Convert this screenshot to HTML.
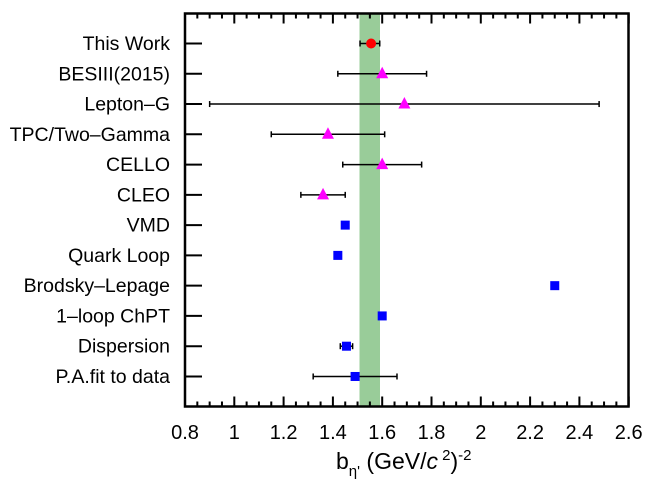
<!DOCTYPE html>
<html><head><style>body{margin:0;background:#fff}svg{display:block}</style></head><body>
<svg width="651" height="487" xmlns="http://www.w3.org/2000/svg" font-family="Liberation Sans, sans-serif">
<rect x="359.5" y="13.5" width="20.5" height="393" fill="#99cc99"/>
<text x="336" y="469" font-size="23">b<tspan font-size="15" dy="7">η'</tspan><tspan dy="-7"> (GeV/</tspan><tspan font-style="italic">c</tspan><tspan font-size="15" dy="-9"> 2</tspan><tspan dy="9">)</tspan><tspan font-size="15" dy="-9">-2</tspan></text>
<script>
const s=document.querySelector('svg');const NS='http://www.w3.org/2000/svg';
const X=v=>185+(v-0.8)*246.5;
function el(t,a,txt){const e=document.createElementNS(NS,t);for(const k in a)e.setAttribute(k,a[k]);if(txt!==undefined)e.textContent=txt;s.appendChild(e);return e;}
for(let i=0;i<=36;i++){const v=0.8+i*0.05,x=X(v),L=(i%4==0)?10:5;
el('line',{x1:x,x2:x,y1:406.5,y2:406.5-L,stroke:'#000','stroke-width':2});
el('line',{x1:x,x2:x,y1:13.5,y2:13.5+L,stroke:'#000','stroke-width':2});
if(i%4==0){el('text',{x:x,y:439,'font-size':20,'text-anchor':'middle'},(Math.round(v*10)/10).toString());}}
const rows=[["This Work",1.555,1.51,1.59,'c'],["BESIII(2015)",1.60,1.42,1.78,'t'],["Lepton\u2013G",1.69,0.90,2.48,'t'],["TPC/Two\u2013Gamma",1.38,1.15,1.61,'t'],["CELLO",1.60,1.44,1.76,'t'],["CLEO",1.36,1.27,1.45,'t'],["VMD",1.45,null,null,'s'],["Quark Loop",1.42,null,null,'s'],["Brodsky\u2013Lepage",2.30,null,null,'s'],["1\u2013loop ChPT",1.60,null,null,'s'],["Dispersion",1.455,1.43,1.48,'s'],["P.A.fit to data",1.49,1.32,1.66,'s']];
rows.forEach((r,i)=>{const y=43.5+i*30.27;
el('line',{x1:185,x2:202,y1:y,y2:y,stroke:'#000','stroke-width':2});
el('text',{x:170,y:y+6.5,'font-size':19.5,'text-anchor':'end'},r[0]);
if(r[2]!==null){el('line',{x1:X(r[2]),x2:X(r[3]),y1:y,y2:y,stroke:'#000','stroke-width':1.5});
[r[2],r[3]].forEach(v=>el('line',{x1:X(v),x2:X(v),y1:y-3,y2:y+3,stroke:'#000','stroke-width':1.5}));}
const x=X(r[1]);
if(r[4]=='c')el('circle',{cx:x,cy:y,r:5,fill:'#f00'});
if(r[4]=='t')el('polygon',{points:`${x},${y-7} ${x-6},${y+4.5} ${x+6},${y+4.5}`,fill:'#f0f'});
if(r[4]=='s')el('rect',{x:x-4.5,y:y-4.5,width:9,height:9,fill:'#00f'});
});
el('rect',{x:185,y:13.5,width:443.5,height:393,fill:'none',stroke:'#000','stroke-width':2.5});
</script>
</svg>
</body></html>
